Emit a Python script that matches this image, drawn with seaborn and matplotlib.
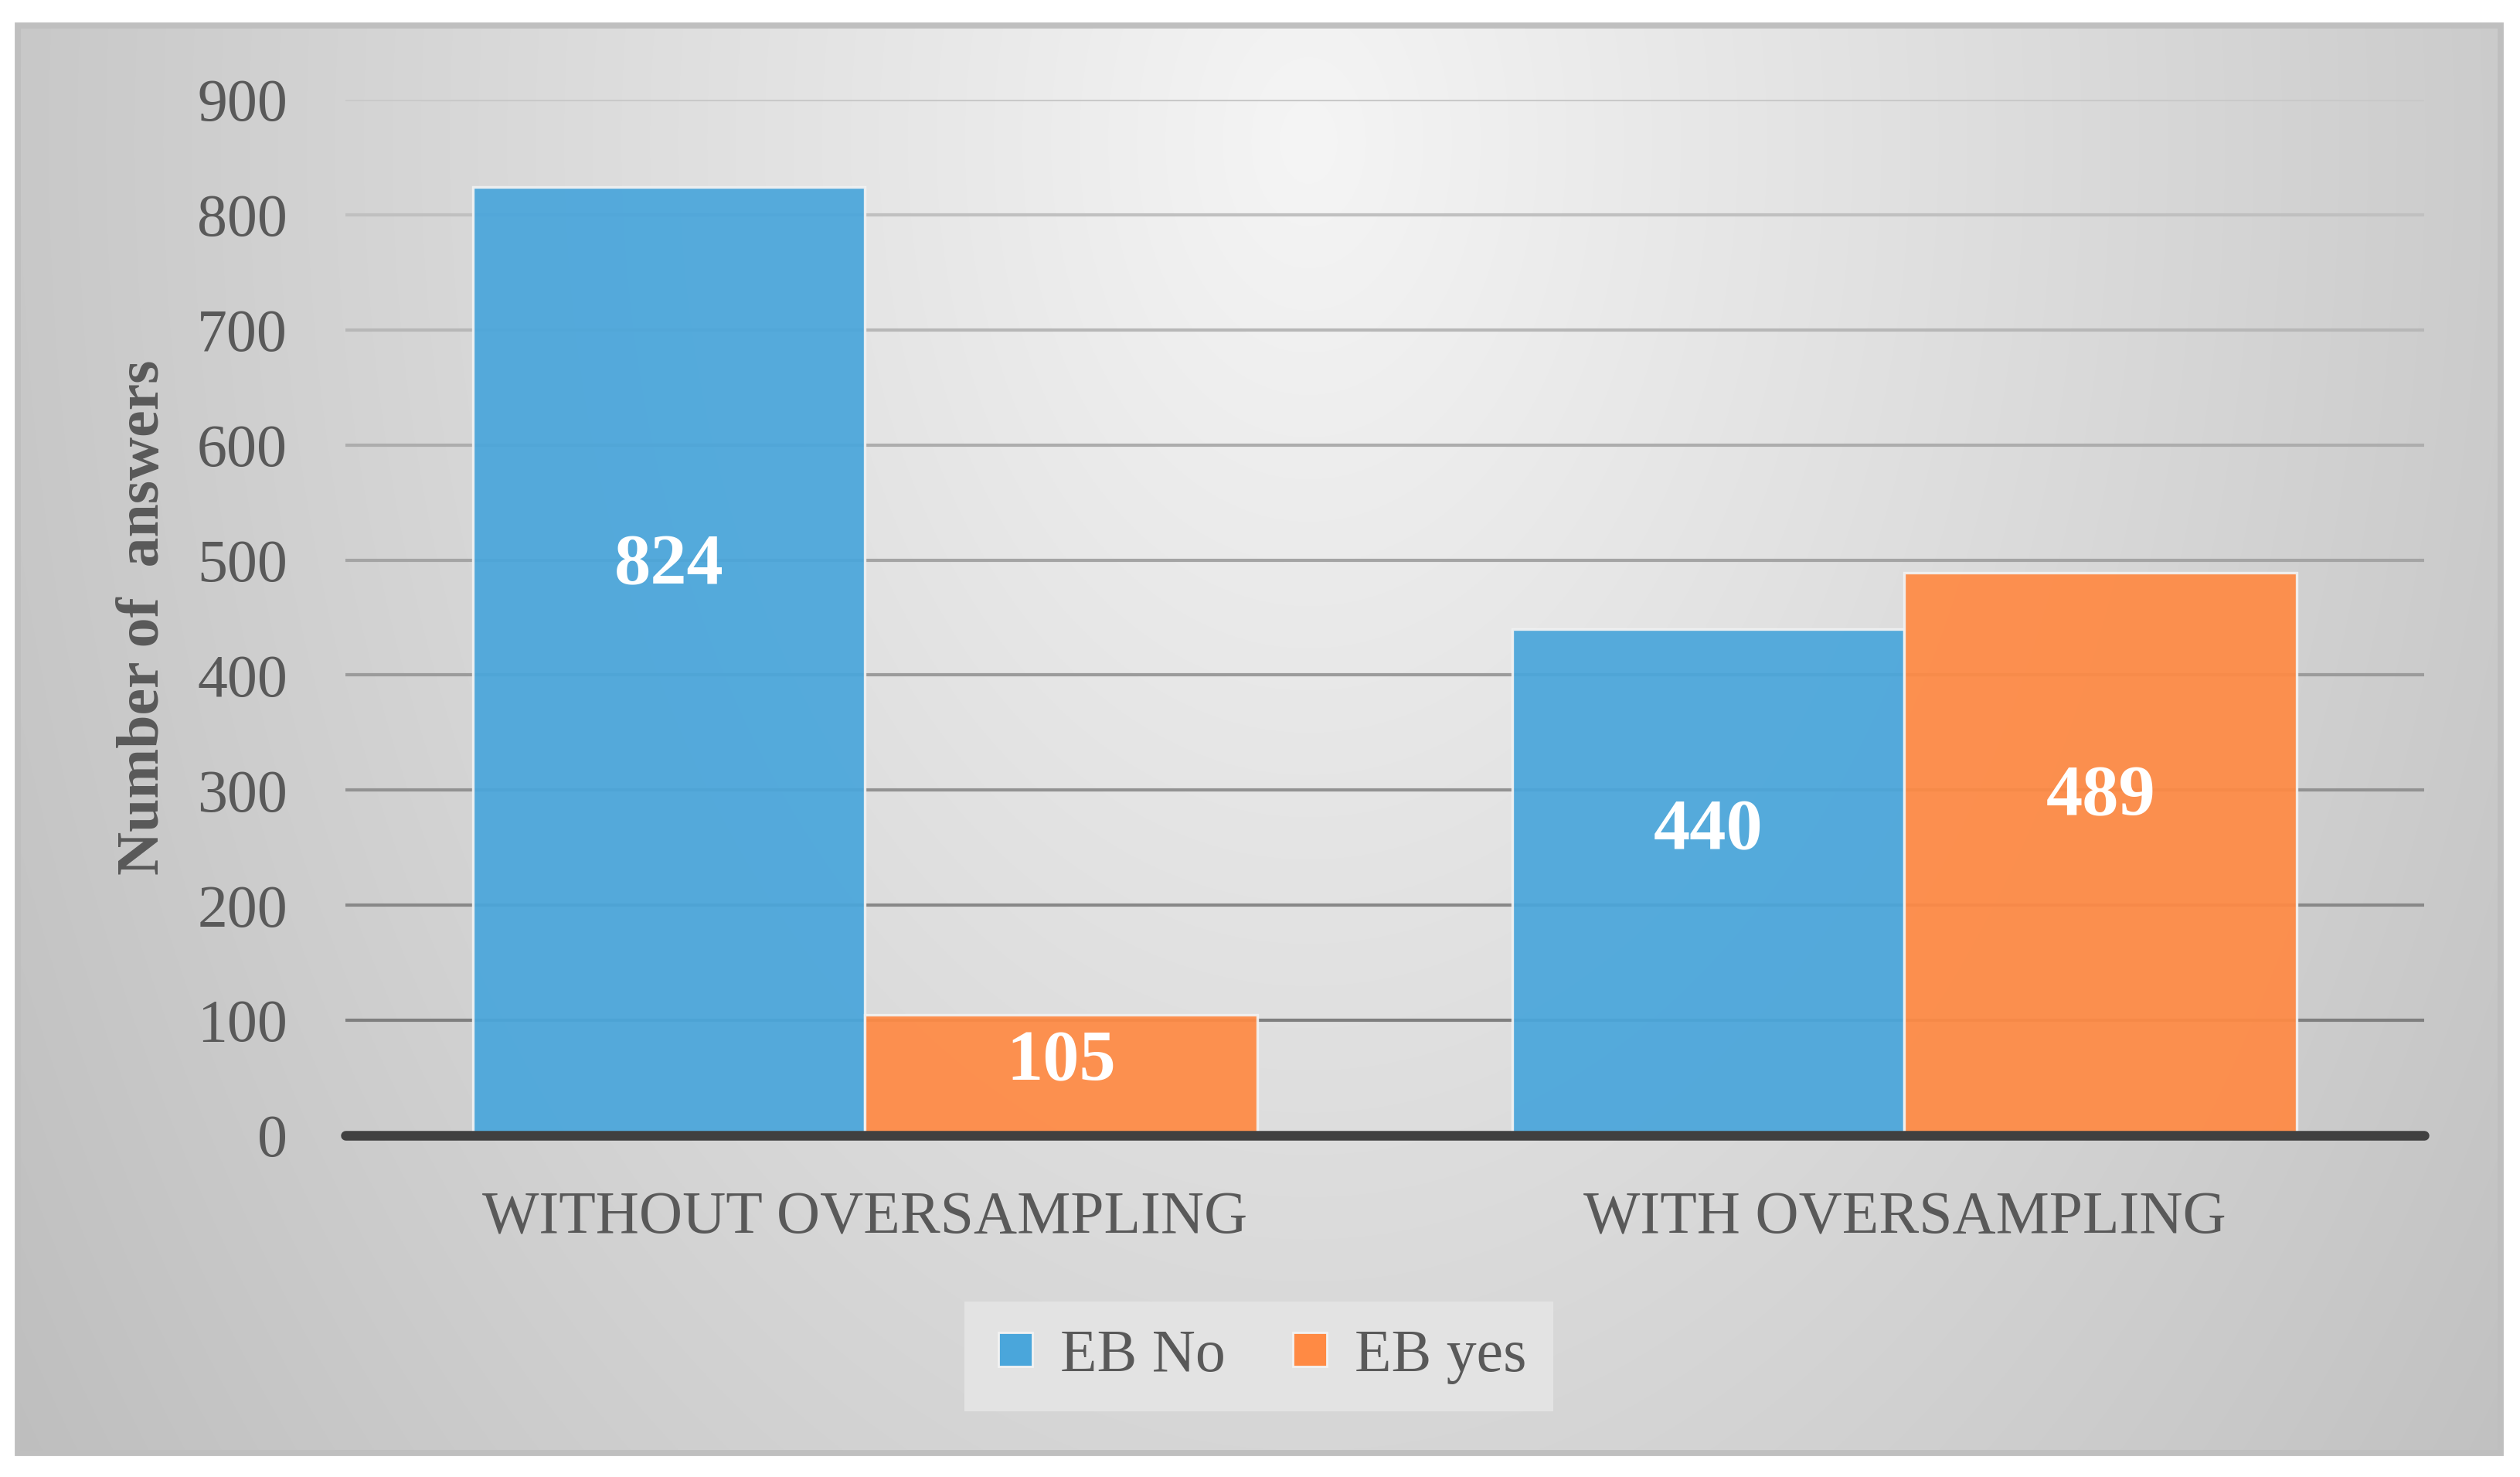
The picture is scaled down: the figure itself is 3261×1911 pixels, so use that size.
import numpy as np
import pandas as pd
import matplotlib
matplotlib.use("Agg")
import matplotlib.pyplot as plt
import seaborn as sns
from matplotlib.patches import Rectangle
from matplotlib.lines import Line2D
from matplotlib.colors import to_rgb

# ---- data ----
categories = ["WITHOUT OVERSAMPLING", "WITH OVERSAMPLING"]
series_names = ["EB No", "EB yes"]
eb_no = [824, 440]
eb_yes = [105, 489]
y_ticks = [0, 100, 200, 300, 400, 500, 600, 700, 800, 900]
y_label = "Number of  answers"

BLUE = "#4AA6DB"
ORANGE = "#FF8A44"
TXT = "#595959"

sns.set_theme(style="white")
plt.rcParams["font.family"] = ["Liberation Serif", "DejaVu Serif"]

W, H, DPI = 3262, 1911, 200
fig = plt.figure(figsize=(W / DPI, H / DPI), dpi=DPI, facecolor="white")

# ---- background panel with radial gradient ----
bg = fig.add_axes([0, 0, 1, 1], zorder=-10)
px0, py0, px1, py1 = 23, 33, 3236, 1880
u = np.linspace(0, 1, 400)
v = np.linspace(0, 1, 300)
U, V = np.meshgrid(u, v)
g = 245 - np.sqrt((86.5 * (U - 0.52)) ** 2 + (33.7 * (V - 0.08)) ** 2)
g = np.clip(g, 0, 255) / 255.0
bg.imshow(np.dstack([g, g, g]), extent=(px0, px1, py1, py0), aspect="auto",
          interpolation="bilinear")
bg.add_patch(Rectangle((px0, py0), px1 - px0, py1 - py0, fill=False,
                       edgecolor="#bfbfbf", linewidth=2.8))
bg.set_xlim(0, W)
bg.set_ylim(H, 0)
bg.set_axis_off()

# ---- main axes ----
ax = fig.add_axes([447 / W, 1 - 1469 / H, (3137 - 447) / W, (1469 - 129) / H])
ax.patch.set_alpha(0)

df = pd.DataFrame({
    "sampling": categories * 2,
    "count": eb_no + eb_yes,
    "eb": [series_names[0]] * len(categories) + [series_names[1]] * len(categories),
})
sns.barplot(data=df, x="sampling", y="count", hue="eb", order=categories,
            hue_order=series_names, palette=[BLUE, ORANGE], saturation=1,
            width=0.755, gap=0, alpha=0.93, edgecolor="#f2f2f2", linewidth=1.2,
            errorbar=None, legend=False, ax=ax, zorder=2)

# gridlines (lighter towards the top)
c_lo, c_hi = np.array(to_rgb("#7f7f7f")), np.array(to_rgb("#c9c9c9"))
grid_ticks = y_ticks[1:]
for i, t in enumerate(grid_ticks):
    f = i / (len(grid_ticks) - 1)
    ax.axhline(t, color=tuple(c_lo + (c_hi - c_lo) * f), lw=1.5, zorder=1)
ax.axhline(0, color="#404040", lw=4.5, zorder=3, clip_on=False)

ax.set_xlim(-0.5, len(categories) - 0.5)
ax.set_ylim(y_ticks[0], y_ticks[-1])
ax.set_yticks(y_ticks)
ax.set_yticklabels([str(t) for t in y_ticks])
for s in ax.spines.values():
    s.set_visible(False)
ax.tick_params(axis="y", length=0, pad=27, labelsize=28, labelcolor=TXT)
ax.tick_params(axis="x", length=0, pad=26, labelsize=28, labelcolor=TXT)
ax.set_xlabel("")
ax.set_ylabel(y_label, fontsize=28, fontweight="bold", color=TXT)
ax.yaxis.set_label_coords(-0.0836, 0.5)

# value labels
for p in ax.patches:
    h = p.get_height()
    if h > 0:
        ax.text(p.get_x() + p.get_width() / 2, h * 0.6, f"{h:.0f}", ha="center",
                va="center", color="white", fontsize=34, fontweight="bold", zorder=4)

# legend
handles = [Line2D([], [], marker="s", ls="", markersize=16, markerfacecolor=c,
                  markeredgecolor="#f2f2f2", markeredgewidth=1)
           for c in (BLUE, ORANGE)]
leg = fig.legend(handles, series_names, loc="center", bbox_to_anchor=(0.4994, 0.0817),
                 ncol=2, frameon=True, facecolor="#e3e3e3", edgecolor="none",
                 fancybox=False, framealpha=1, fontsize=28, labelcolor=TXT,
                 handletextpad=0.35, columnspacing=1.0, handlelength=0.8, borderpad=0.45)

fig.savefig("out.png", dpi=DPI, facecolor="white")
